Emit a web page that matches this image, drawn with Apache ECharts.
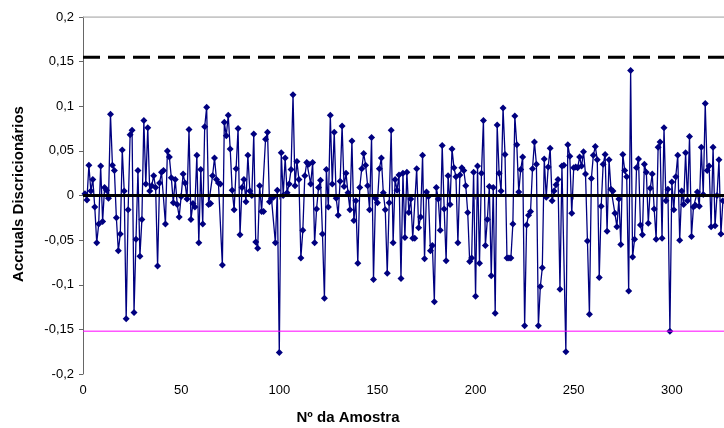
<!DOCTYPE html>
<html>
<head>
<meta charset="utf-8">
<script src="https://cdn.jsdelivr.net/npm/echarts@6/dist/echarts.min.js"></script>
<style>
  html, body { margin: 0; padding: 0; background: #fff; }
  #chart { width: 724px; height: 428px; }
</style>
</head>
<body>
<div id="chart"></div>
<script>
// Accruals discricionários por amostra (amostras 1..326 visíveis)
const accruals = [
    0.002, -0.005, 0.034, 0.005, 0.018, -0.013, -0.053, -0.032, 0.033, -0.029,
    0.009, 0.006, -0.003, 0.091, 0.034, 0.028, -0.025, -0.062, -0.043, 0.051,
    0.005, -0.138, -0.016, 0.068, 0.073, -0.131, -0.049, 0.028, -0.068, -0.027,
    0.084, 0.013, 0.076, 0.005, 0.011, 0.022, 0.009, -0.079, 0.014, 0.026,
    0.028, -0.032, 0.050, 0.043, 0.020, -0.008, 0.018, -0.010, -0.024, -0.001,
    0.024, 0.014, -0.004, 0.074,
    -0.027, -0.009, -0.013, 0.045, -0.053, 0.029, -0.032, 0.077, 0.099, -0.010,
    -0.009, 0.022, 0.042, 0.018, 0.014, 0.013, -0.078, 0.082, 0.067, 0.090,
    0.052, 0.006, -0.016, 0.030, 0.075, -0.044, 0.009, 0.018, -0.007, 0.045,
    0.005, 0.000, 0.069, -0.052, -0.059, 0.011, -0.018, -0.018, 0.063, 0.071,
    -0.007, -0.003, -0.002, -0.053, 0.006, -0.176, 0.048, 0.000, 0.042, 0.003,
    0.013, 0.029,
    0.113,
    0.011, 0.038, 0.018, -0.070, -0.039, 0.022, 0.037, 0.035, 0.013, 0.037,
    -0.053, -0.015, 0.009, 0.017, -0.043, -0.115, 0.029, -0.013, 0.090, 0.013,
    0.071, -0.003, -0.022, 0.016, 0.078, 0.010, 0.025, 0.003, -0.016, 0.061,
    -0.028, -0.006, -0.076, 0.009, 0.030, 0.047, 0.034, 0.011, -0.016, 0.065,
    -0.094, -0.003, -0.008, 0.030, 0.042, 0.003, -0.016, -0.087, -0.008, 0.073,
    -0.053, 0.018, 0.006, 0.023, -0.093,
    0.025, -0.047, 0.026, -0.019, -0.004, -0.048, -0.048, 0.030, -0.036, -0.024,
    0.045, -0.071, 0.004, -0.001, -0.062, -0.056, -0.119, 0.009, -0.004, -0.039,
    0.056, -0.015, -0.073, 0.022, -0.010, 0.052, 0.031, 0.021, -0.053, 0.023,
    0.031, 0.028, 0.011, -0.019, -0.074, -0.070, 0.026, -0.113, 0.033, -0.076,
    0.025, 0.084, -0.056, -0.027, 0.010, -0.090, 0.009, -0.132, 0.079, 0.025,
    0.005, 0.098, 0.046, -0.070,
    -0.070, -0.070, -0.032, 0.089, 0.057, 0.004, 0.029, 0.043, -0.146, -0.033,
    -0.022, -0.018, 0.030, 0.060, 0.035, -0.146, -0.102, -0.081, 0.041, -0.002,
    0.032, 0.053, -0.006, 0.005, 0.012, 0.018, -0.105, 0.033, 0.034, -0.175,
    0.057, 0.044, -0.020, 0.031, 0.032, 0.031, 0.043, 0.033, 0.049, 0.024,
    -0.051, -0.133, 0.019, 0.045, 0.055, 0.040, -0.092, -0.012, 0.035, 0.046,
    -0.040, 0.040, 0.007, 0.005,
    -0.020, -0.035, -0.004, -0.055, 0.046, 0.028, 0.021, -0.107, 0.140, -0.069,
    -0.049, 0.031, 0.041, -0.033, -0.044, 0.035, 0.026, -0.031, 0.008, 0.024,
    -0.015, -0.049, 0.054, 0.060, -0.048, 0.076, -0.006, 0.007, -0.152, 0.015,
    -0.016, 0.021, 0.045, -0.050, 0.005, -0.010, 0.048, -0.006, 0.066, -0.046,
    -0.013, -0.011, 0.004, -0.012, 0.054, 0.001, 0.103, 0.028, 0.033, -0.035,
    0.054, -0.034, 0.000, 0.040, -0.043, -0.006
];

const xRange = [0, 350];
const yRange = [-0.2, 0.2];
const upperLimit = 0.155;
const lowerLimit = -0.152;
const zeroLevel = 0;

const xTitle = 'Nº da Amostra';
const yTitle = 'Accruals Discricionários';

const points = accruals.map((v, i) => [i + 1, v]);
const hLine = y => [[xRange[0], y], [xRange[1], y]];
const fmt = v => String(Number(v.toFixed(2))).replace('.', ',');

const chart = echarts.init(document.getElementById('chart'), null, { renderer: 'canvas' });
chart.setOption({
    animation: false,
    textStyle: { fontFamily: 'Liberation Sans, Arial, sans-serif' },
    grid: { left: 83, top: 17, width: 687, height: 357, outerBoundsMode: 'none', containLabel: false },
    xAxis: {
        type: 'value',
        min: xRange[0],
        max: xRange[1],
        interval: 50,
        axisLine: { lineStyle: { color: '#808080', width: 1 } },
        axisTick: { show: true, length: 4, lineStyle: { color: '#808080' } },
        axisLabel: { color: '#000', fontSize: 13, margin: 10 },
        splitLine: { show: false }
    },
    yAxis: {
        type: 'value',
        min: yRange[0],
        max: yRange[1],
        interval: 0.05,
        axisLine: { show: true, onZero: false, lineStyle: { color: '#666', width: 1 } },
        axisTick: { show: true, length: 4, lineStyle: { color: '#666' } },
        axisLabel: { color: '#000', fontSize: 13, margin: 9, formatter: fmt },
        splitLine: { show: false }
    },
    series: [
        // borda superior da área do gráfico
        {
            type: 'line', data: hLine(yRange[1]), showSymbol: false, silent: true,
            lineStyle: { color: '#b4b4b4', width: 1.5 }, z: 1
        },
        {
            type: 'line', data: points, symbol: 'diamond', symbolSize: 7,
            itemStyle: { color: '#000080' },
            lineStyle: { color: '#000080', width: 1.3 }, z: 2
        },
        // linha zero
        {
            type: 'line', data: hLine(zeroLevel), showSymbol: false, silent: true,
            lineStyle: { color: '#000', width: 3 }, z: 3
        },
        // limite superior (tracejado)
        {
            type: 'line', data: hLine(upperLimit), showSymbol: false, silent: true,
            lineStyle: { color: '#000', width: 3, type: [17, 8] }, z: 3
        },
        // limite inferior
        {
            type: 'line', data: hLine(lowerLimit), showSymbol: false, silent: true,
            lineStyle: { color: '#ff00ff', width: 1 }, z: 3
        }
    ],
    graphic: [
        {
            type: 'text', x: 348, y: 418,
            style: { text: xTitle, fill: '#000', font: 'bold 15px Liberation Sans, Arial, sans-serif', align: 'center', verticalAlign: 'middle' }
        },
        {
            type: 'text', x: 19, y: 194, rotation: Math.PI / 2,
            style: { text: yTitle, fill: '#000', font: 'bold 15px Liberation Sans, Arial, sans-serif', align: 'center', verticalAlign: 'middle' }
        }
    ]
});
</script>
</body>
</html>
